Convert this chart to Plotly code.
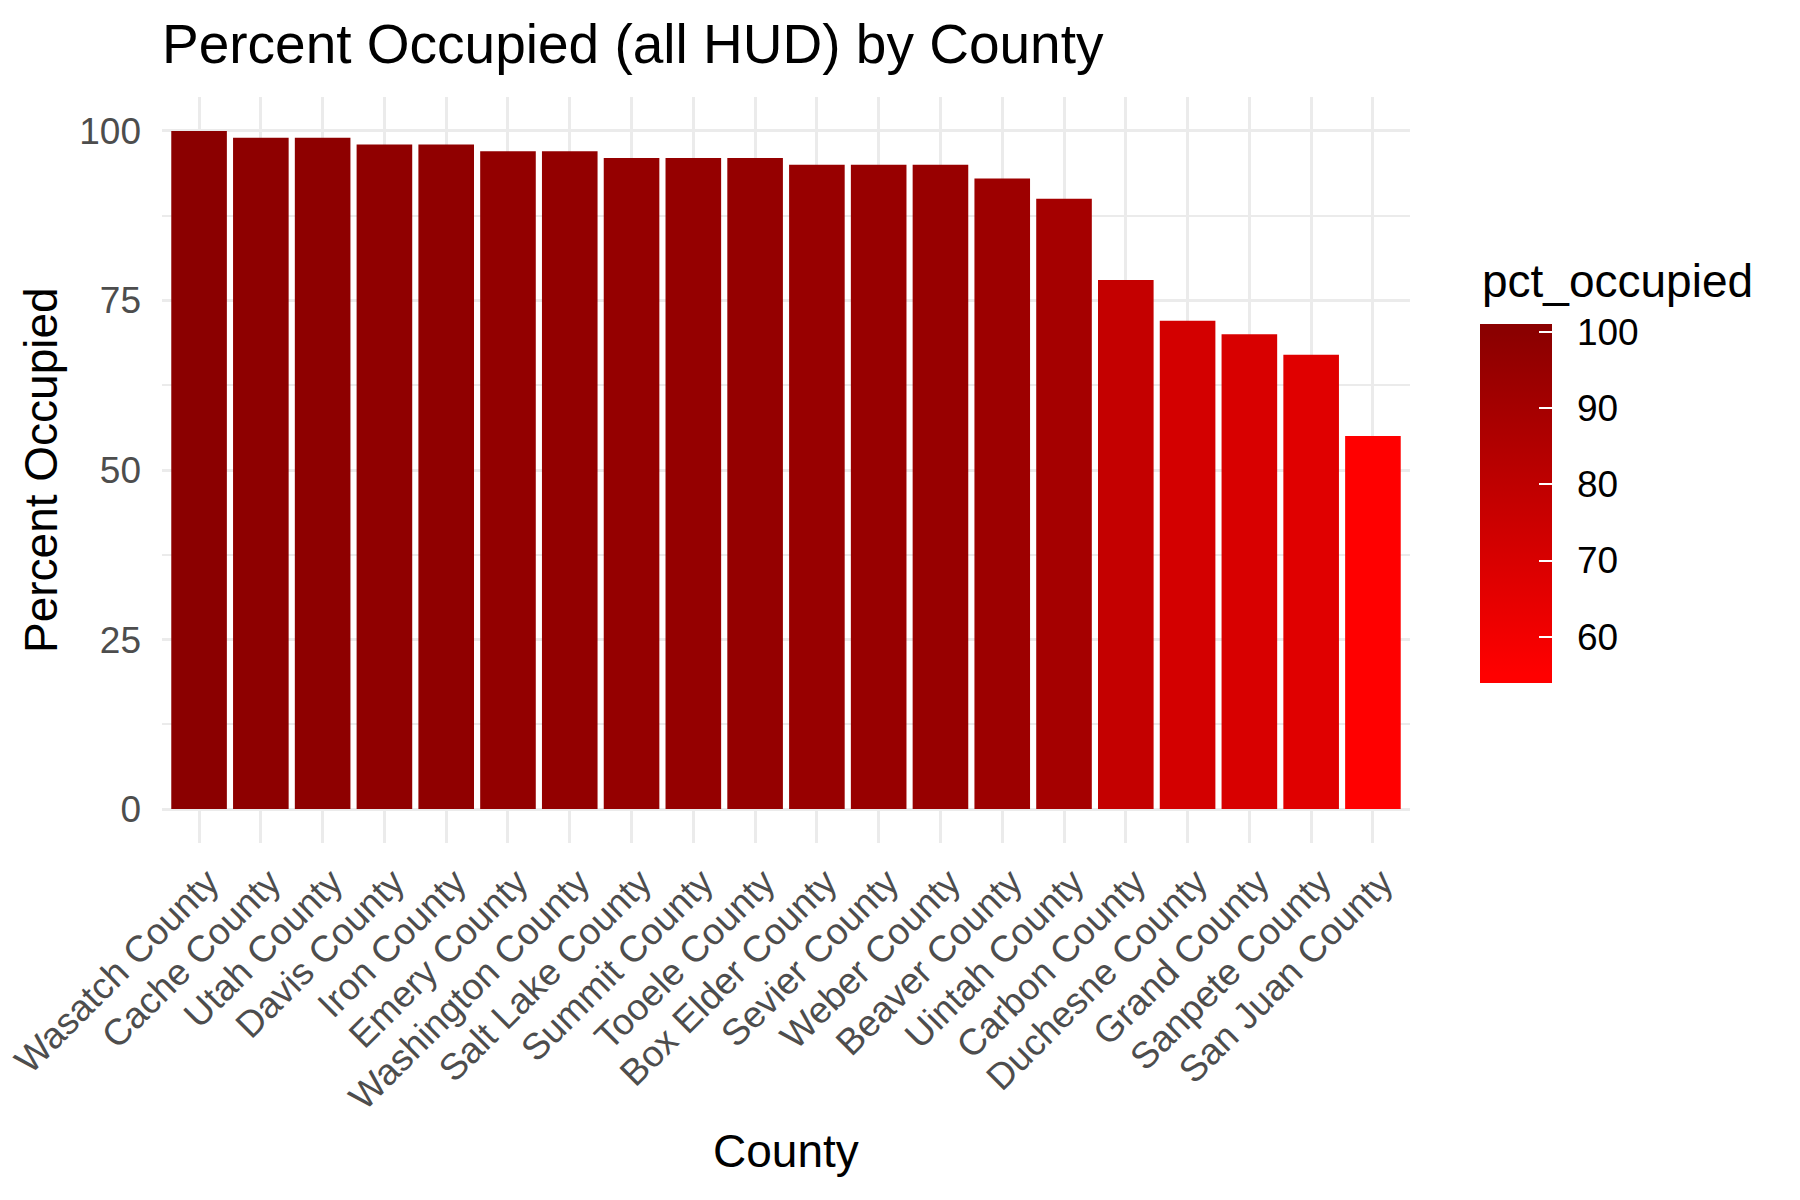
import plotly.graph_objects as go

counties = ["Wasatch County", "Cache County", "Utah County", "Davis County", "Iron County",
            "Emery County", "Washington County", "Salt Lake County", "Summit County",
            "Tooele County", "Box Elder County", "Sevier County", "Weber County",
            "Beaver County", "Uintah County", "Carbon County", "Duchesne County",
            "Grand County", "Sanpete County", "San Juan County"]
pct_occupied = [100, 99, 99, 98, 98, 97, 97, 96, 96, 96, 95, 95, 95, 93, 90, 78, 72, 70, 67, 55]
y_ticks = [0, 25, 50, 75, 100]
cbar_ticks = [60, 70, 80, 90, 100]

FONT = "Liberation Sans, Arial, sans-serif"
L, R, T, B = 162, 1410, 97, 843  # panel in pixels
W, H = 1800, 1200

vmin, vmax = min(pct_occupied), max(pct_occupied)
ext = 1.1
cmin, cmax = vmin - ext, vmax + ext
p0 = (vmin - cmin) / (cmax - cmin)
p1 = (vmax - cmin) / (cmax - cmin)
colorscale = [[0, "#FF0000"], [p0, "#FF0000"], [p1, "#8B0000"], [1, "#8B0000"]]

cb_top, cb_bot = 324, 683
cb_left, cb_thick = 1480, 72
cb_y = 1 - cb_top / (B - T)  # empirical anchoring used by plotly here

def cbar(**kw):
    base = dict(
        xref="container", yref="container",
        x=cb_left / W, xanchor="left", xpad=0,
        y=cb_y, yanchor="top", ypad=0,
        lenmode="pixels", len=cb_bot - cb_top,
        thickness=cb_thick, outlinewidth=0,
        tickvals=cbar_ticks,
        tickfont=dict(family=FONT, size=37, color="black"),
    )
    base.update(kw)
    return base

fig = go.Figure()
fig.add_trace(go.Bar(
    x=counties, y=pct_occupied, width=0.9,
    marker=dict(color=pct_occupied, colorscale=colorscale, cmin=cmin, cmax=cmax,
                line=dict(width=0),
                colorbar=cbar(ticks="outside", ticklen=18, tickcolor="rgba(0,0,0,0)")),
    showlegend=False,
))
# overlay colorbar carrying the white inner tick marks
fig.add_trace(go.Scatter(
    x=[None], y=[None], mode="markers", hoverinfo="skip", showlegend=False,
    marker=dict(color=[vmin, vmax], colorscale=colorscale, cmin=cmin, cmax=cmax,
                showscale=True,
                colorbar=cbar(ticks="inside", ticklen=13, tickcolor="white", tickwidth=2,
                              showticklabels=False)),
))

def px_x(X):
    return (X - L) / (R - L)

def px_y(Y):
    return (B - Y) / (B - T)

annotations = [
    dict(text="County", x=0.5, y=px_y(1151), xref="paper", yref="paper",
         xanchor="center", yanchor="middle", showarrow=False,
         font=dict(family=FONT, size=46, color="black")),
    dict(text="Percent Occupied", x=px_x(41), y=0.5, xref="paper", yref="paper",
         xanchor="center", yanchor="middle", showarrow=False, textangle=-90,
         font=dict(family=FONT, size=46, color="black")),
    dict(text="pct_occupied", x=px_x(1480), y=px_y(281), xref="paper", yref="paper",
         xanchor="left", yanchor="middle", showarrow=False,
         font=dict(family=FONT, size=46, color="black")),
]

fig.update_layout(
    width=W, height=H,
    margin=dict(l=L, r=W - R, t=T, b=H - B, autoexpand=False),
    paper_bgcolor="white", plot_bgcolor="white",
    title=dict(text="Percent Occupied (all HUD) by County", x=L / W, xanchor="left",
               xref="container", yref="container", y=1 - 44 / H, yanchor="middle",
               font=dict(family=FONT, size=55, color="black")),
    annotations=annotations,
    bargap=0.1,
)
fig.update_xaxes(
    range=[-0.6, len(counties) - 0.4], showgrid=True, gridcolor="#EBEBEB", gridwidth=3,
    zeroline=False, showline=False, ticks="", tickangle=-45,
    tickfont=dict(family=FONT, size=37, color="#4D4D4D"),
    ticklabelstandoff=9, ticklabelshift=9,
)
fig.update_yaxes(
    range=[-5, 105], tickvals=y_ticks, showgrid=True, gridcolor="#EBEBEB", gridwidth=3,
    zeroline=False, showline=False, ticks="",
    minor=dict(dtick=12.5, tick0=0, showgrid=True, gridcolor="#EBEBEB", gridwidth=1.6),
    tickfont=dict(family=FONT, size=37, color="#4D4D4D"),
    ticklabelstandoff=20,
)
fig.write_html("out.html")
